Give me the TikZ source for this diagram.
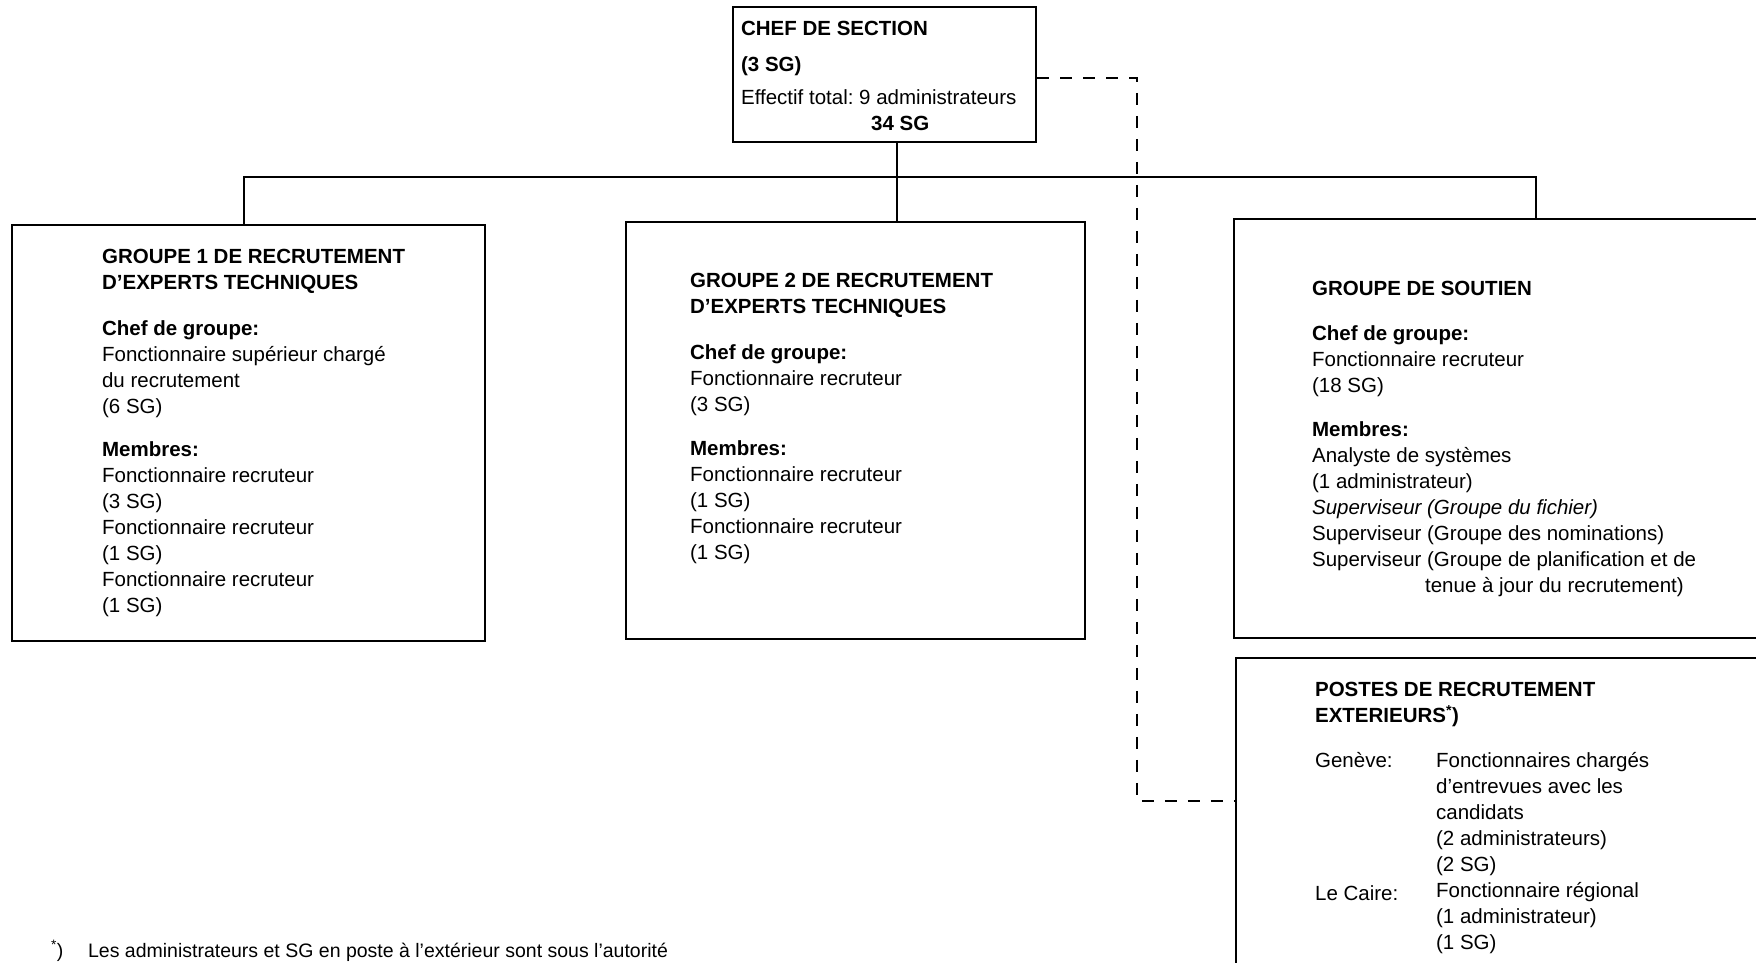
\documentclass[tikz,border=0pt]{standalone}
\usepackage{fontspec}
\setmainfont{Liberation Sans}
\usetikzlibrary{calc}
\frenchspacing
\begin{document}
\begin{tikzpicture}[x=1pt,y=-1pt,line width=2.2pt,
  box/.style={draw, rectangle, inner sep=0pt, anchor=north west},
  txt/.style={anchor=north west, inner sep=0pt, align=left, font=\fontsize{20.5}{26}\selectfont},
  btxt/.style={anchor=north west, inner sep=0pt, align=left, font=\bfseries\fontsize{20.5}{26}\selectfont},
  conn/.style={draw, line width=2pt},
  dashconn/.style={draw, line width=2pt, dash pattern=on 12pt off 11pt}]
\useasboundingbox (0,0) rectangle (1756,963);
\clip (0,0) rectangle (1756,963);
% boxes
\node[box, minimum width=303, minimum height=135] (chef) at (732,6) {};
\node[box, minimum width=473, minimum height=416] (g1) at (11,224) {};
\node[box, minimum width=459, minimum height=417] (g2) at (625,221) {};
\node[box, minimum width=600, minimum height=419] (g3) at (1233,218) {};
\node[box, minimum width=600, minimum height=420] (g4) at (1235,657) {};
% texts
\node[txt] (chefT) at (740,20.5) {\textbf{CHEF DE SECTION}\\[10pt]\textbf{(3 SG)}\\[7pt]Effectif total: 9 administrateurs\\\hspace*{130pt}\textbf{34 SG}};
\node[txt] (g1T) at (101,248.5) {\textbf{GROUPE 1 DE RECRUTEMENT}\\\textbf{D’EXPERTS TECHNIQUES}\\[20pt]\textbf{Chef de groupe:}\\Fonctionnaire supérieur chargé\\du recrutement\\(6 SG)\\[17pt]\textbf{Membres:}\\Fonctionnaire recruteur\\(3 SG)\\Fonctionnaire recruteur\\(1 SG)\\Fonctionnaire recruteur\\(1 SG)};
\node[txt] (g2T) at (689,272.5) {\textbf{GROUPE 2 DE RECRUTEMENT}\\\textbf{D’EXPERTS TECHNIQUES}\\[20pt]\textbf{Chef de groupe:}\\Fonctionnaire recruteur\\(3 SG)\\[18pt]\textbf{Membres:}\\Fonctionnaire recruteur\\(1 SG)\\Fonctionnaire recruteur\\(1 SG)};
\node[txt] (g3T) at (1311,280.5) {\textbf{GROUPE DE SOUTIEN}\\[19pt]\textbf{Chef de groupe:}\\Fonctionnaire recruteur\\(18 SG)\\[18pt]\textbf{Membres:}\\Analyste de systèmes\\(1 administrateur)\\\textit{Superviseur (Groupe du fichier)}\\Superviseur (Groupe des nominations)\\Superviseur (Groupe de planification et de\\\hspace*{113pt}tenue à jour du recrutement)};
\node[btxt] (g4T) at (1314,681.5) {POSTES DE RECRUTEMENT\\EXTERIEURS\textsuperscript{*})};
\node[txt] (g4L1) at (1314,751.5) {Genève:};
\node[txt] (g4L2) at (1314,884.5) {Le Caire:};
\node[txt] (g4V) at (1435,751.5) {Fonctionnaires chargés\\d’entrevues avec les\\candidats\\(2 administrateurs)\\(2 SG)\\Fonctionnaire régional\\(1 administrateur)\\(1 SG)};
\node[anchor=base west, inner sep=0pt, font=\fontsize{19.5}{24}\selectfont] (fnm) at (50,957) {\textsuperscript{*})};
\node[anchor=base west, inner sep=0pt, font=\fontsize{19.5}{24}\selectfont] (fn) at (87,957) {Les administrateurs et SG en poste à l’extérieur sont sous l’autorité};
% connectors
\coordinate (bus) at (0,177);
\coordinate (dx) at (1137,0);
\draw[conn] ([xshift=12pt]chef.south) -- ([xshift=12pt]chef.south |- g2.north);
\draw[conn] ([xshift=-4.5pt]g1.north) -- ([xshift=-4.5pt]g1.north |- bus) -- ([xshift=303pt]g3.north west |- bus) -- ([xshift=303pt]g3.north west);
\coordinate (g4in) at ([yshift=-144pt]g4.north west);
\coordinate (chefout) at ([yshift=-3pt]chef.east);
\draw[dashconn] (chefout) -- (chefout -| dx) -- (dx |- g4in) -- (g4in);
\end{tikzpicture}
\end{document}
